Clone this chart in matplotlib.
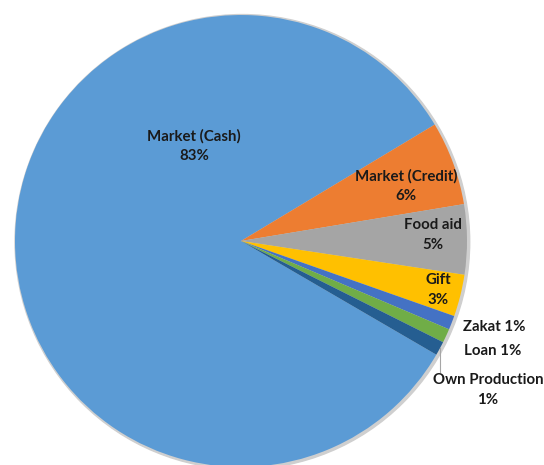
import matplotlib.pyplot as plt
import numpy as np
from matplotlib.patches import Circle

# food sources, share of households (%)
sources = ["Market (Cash)", "Market (Credit)", "Food aid", "Gift",
           "Zakat", "Loan", "Own Production"]
shares = [83, 6, 5, 3, 1, 1, 1]
colours = ["#5B9BD5", "#ED7D31", "#A5A5A5", "#FFC000",
           "#4472C4", "#70AD47", "#255E91"]

# label anchors in units of the pie radius
label_xy = [(-0.208, 0.42), (0.73, 0.243), (0.85, 0.027), (0.872, -0.217),
            (1.119, -0.381), (1.115, -0.487), (1.093, -0.659)]
one_line = {"Zakat", "Loan"}

W, H, DPI = 544, 465, 100
CX, CY, R = 241, 241, 226  # pie centre and radius, pixels

plt.rcParams["font.family"] = ["Lato", "DejaVu Sans"]
fig = plt.figure(figsize=(W / DPI, H / DPI), dpi=DPI)
ax = fig.add_axes([0, 0, 1, 1])

# soft shadow round the rim
ax.add_patch(Circle((0.006, -0.004), 1.006, color="#cfcfcf", zorder=0))

start = 31 + 360 * shares[0] / sum(shares)
wedges, _ = ax.pie(shares, colors=colours, startangle=start,
                   counterclock=False, radius=1,
                   wedgeprops=dict(linewidth=0))

ax.set_xlim(-CX / R, (W - CX) / R)
ax.set_ylim(-(H - CY) / R, CY / R)
ax.set_aspect("equal")
ax.axis("off")

for name, val, (x, y) in zip(sources, shares, label_xy):
    sep = " " if name in one_line else "\n"
    ax.text(x, y, f"{name}{sep}{val}%", ha="center", va="center",
            fontsize=10.8, fontweight="bold", color="#1a1a1a",
            linespacing=1.55, zorder=5)

# leader line for the last slice
w = wedges[-1]
mid = np.deg2rad((w.theta1 + w.theta2) / 2)
x0, y0 = np.cos(mid), np.sin(mid)
ax.plot([x0, x0], [y0, -0.58], color="#a6a6a6", lw=0.8, zorder=4)

fig.savefig("out.png", dpi=DPI)
